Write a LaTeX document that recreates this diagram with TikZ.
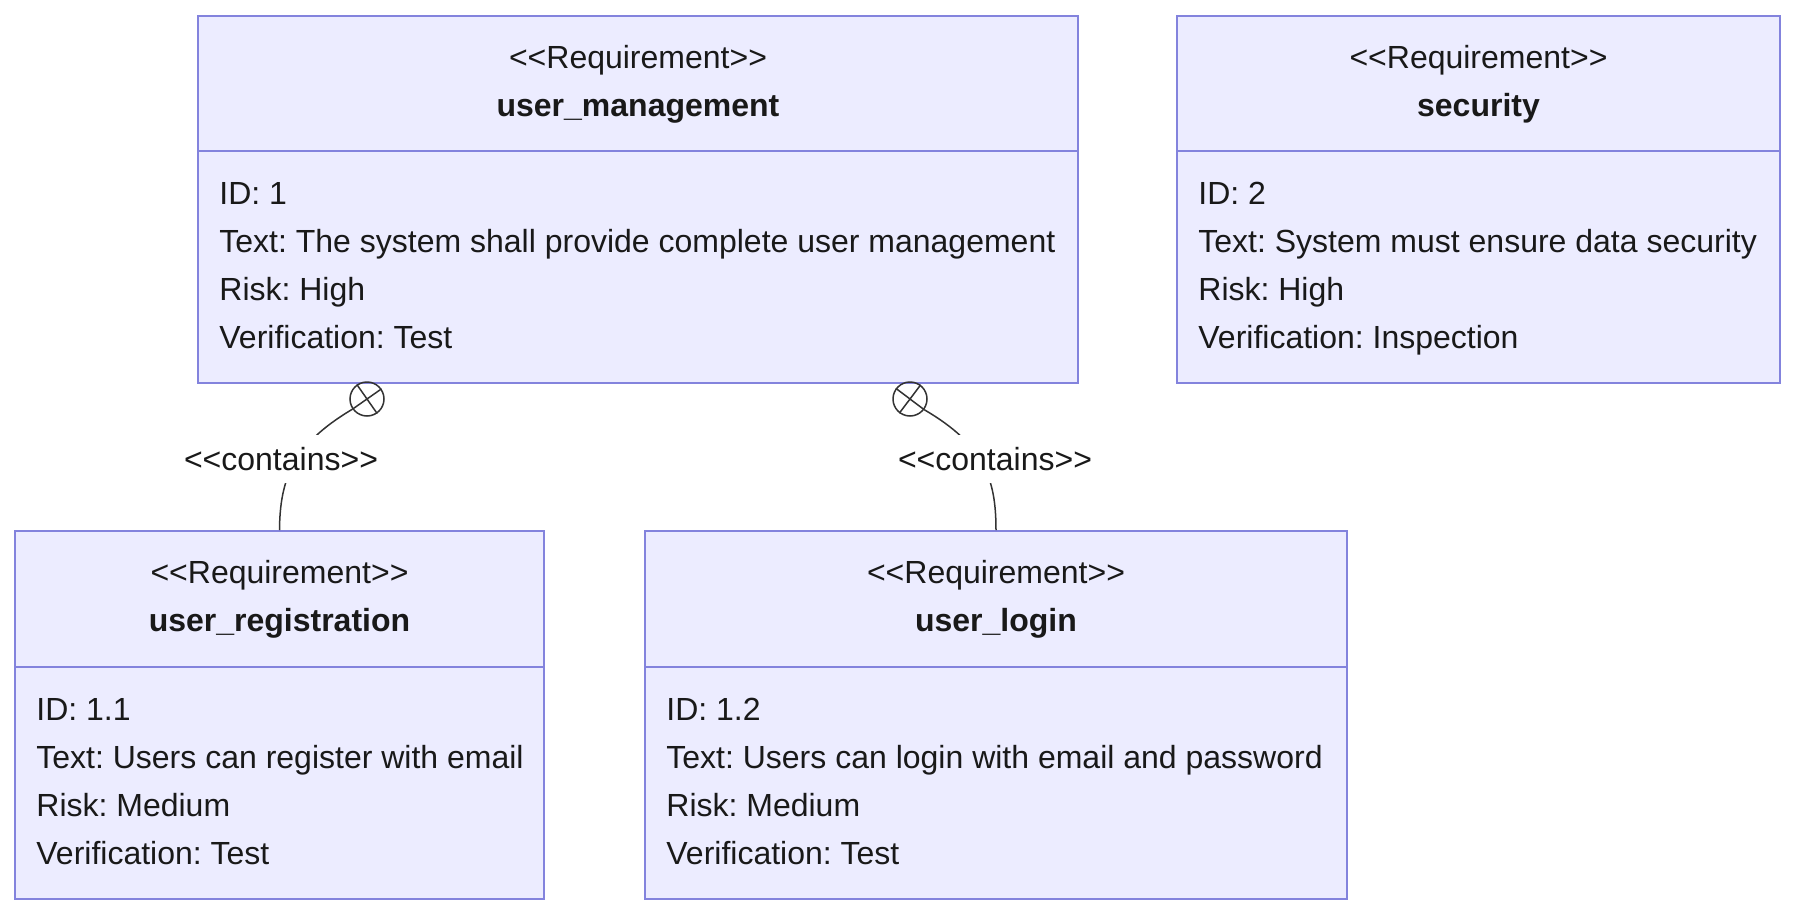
\documentclass[tikz,border=0pt]{standalone}
\usepackage{fontspec}
\setmainfont{Liberation Sans}[Ligatures=TeXOff]
\usepackage{tikz}
\usetikzlibrary{shapes,arrows}
\frenchspacing
\definecolor{reqfill}{HTML}{ECECFF}
\definecolor{reqline}{HTML}{8383DD}
\definecolor{inkgray}{HTML}{333333}
\tikzstyle{reqbox} = [draw=reqline, line width=1pt, rectangle, fill=reqfill, inner sep=0pt]
\tikzstyle{reqdiv} = [draw=reqline, line width=1pt]
\tikzstyle{reqtxt} = [anchor=base west, inner sep=0pt, text=black!90, font=\fontsize{16pt}{19pt}\selectfont]
\tikzstyle{reqhead} = [anchor=base, inner sep=0pt, text=black!90, font=\fontsize{16pt}{19pt}\selectfont]
\tikzstyle{contmark} = [draw=inkgray, circle, line width=0.75pt, minimum size=17pt, inner sep=0pt]
\tikzstyle{contline} = [draw=inkgray, line width=0.75pt]
\tikzstyle{contlabel} = [fill=white, inner xsep=1pt, inner ysep=0pt, minimum height=24pt, text=black!90, font=\fontsize{16pt}{19pt}\selectfont]

\begin{document}
\begin{tikzpicture}[x=0.5pt,y=-0.5pt]
\useasboundingbox (0,0) rectangle (1796,916);

% the four requirement boxes
\node [reqbox, minimum width=440pt, minimum height=183.5pt] (usermgmt) at (638,199.5) {};
\node [reqbox, minimum width=301.5pt, minimum height=183.5pt] (security) at (1478.5,199.5) {};
\node [reqbox, minimum width=264.5pt, minimum height=184pt] (userreg) at (279.5,715) {};
\node [reqbox, minimum width=351pt, minimum height=184pt] (userlogin) at (996,715) {};

\foreach \b/\y in {usermgmt/151, security/151, userreg/667, userlogin/667}
    \draw [reqdiv] (\b.west |- 0,\y) -- (\b.east |- 0,\y);

% headers
\node [reqhead] (usermgmt-st) at (usermgmt.north |- 0,68) {<<Requirement>>};
\node [reqhead] (usermgmt-nm) at (usermgmt.north |- 0,116) {\bfseries user\_management};
\node [reqhead] (security-st) at (security.north |- 0,68) {<<Requirement>>};
\node [reqhead] (security-nm) at (security.north |- 0,116) {\bfseries security};
\node [reqhead] (userreg-st) at (userreg.north |- 0,583) {<<Requirement>>};
\node [reqhead] (userreg-nm) at (userreg.north |- 0,631) {\bfseries user\_registration};
\node [reqhead] (userlogin-st) at (userlogin.north |- 0,583) {<<Requirement>>};
\node [reqhead] (userlogin-nm) at (userlogin.north |- 0,631) {\bfseries user\_login};

% attributes
\foreach \t [count=\i] in {ID: 1, Text: The system shall provide complete user management, Risk: High, Verification: Test}
    \node [reqtxt] (usermgmt-\i) at (219,156+48*\i) {\t};
\foreach \t [count=\i] in {ID: 2, Text: System must ensure data security, Risk: High, Verification: Inspection}
    \node [reqtxt] (security-\i) at (1198,156+48*\i) {\t};
\foreach \t [count=\i] in {ID: 1.1, Text: Users can register with email, Risk: Medium, Verification: Test}
    \node [reqtxt] (userreg-\i) at (36,672+48*\i) {\t};
\foreach \t [count=\i] in {ID: 1.2, Text: Users can login with email and password, Risk: Medium, Verification: Test}
    \node [reqtxt] (userlogin-\i) at (666,672+48*\i) {\t};

% containment links
\node [contmark] (mark1) at (367,399) {};
\node [contmark] (mark2) at (910,399) {};
\draw [contline] (mark1.35) -- (mark1.215) (mark1.125) -- (mark1.305);
\draw [contline] (mark2.143) -- (mark2.323) (mark2.53) -- (mark2.233);
\draw [contline] (mark1.215) .. controls (292,445) and (280,480) .. (userreg.north);
\draw [contline] (mark2.323) .. controls (985,445) and (996,480) .. (userlogin.north);
\node [contlabel] (cont1) at (281,459) {<<contains>>};
\node [contlabel] (cont2) at (995,459) {<<contains>>};
\end{tikzpicture}
\end{document}
